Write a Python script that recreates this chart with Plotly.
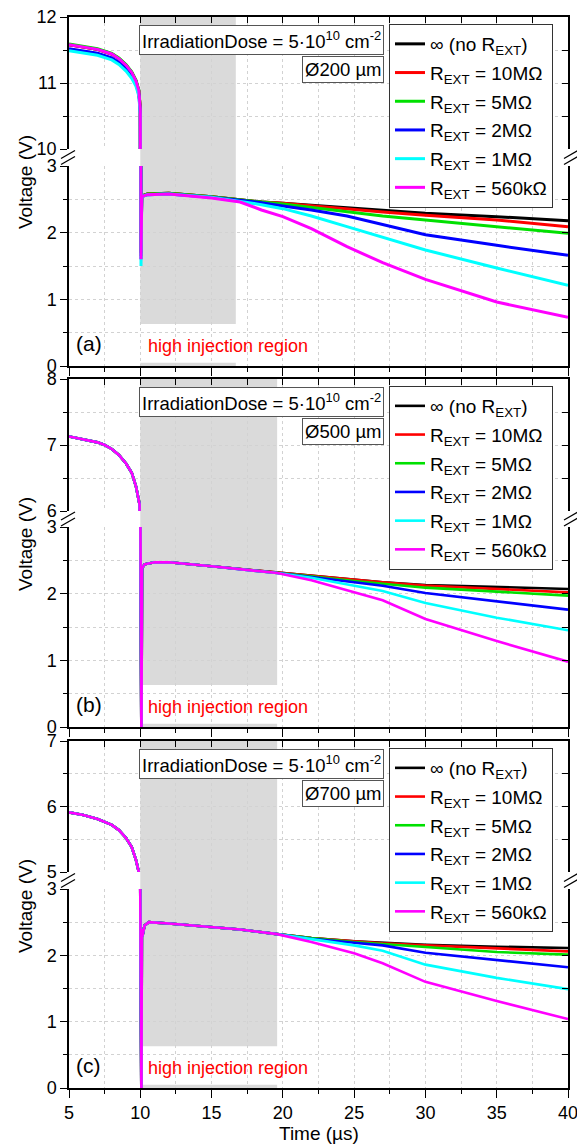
import plotly.graph_objects as go

W, H = 577, 1146

# ---------------- data ----------------
SERIES_NAMES = ["∞ (no R<sub>EXT</sub>)", "R<sub>EXT</sub> = 10MΩ", "R<sub>EXT</sub> = 5MΩ",
                "R<sub>EXT</sub> = 2MΩ", "R<sub>EXT</sub> = 1MΩ", "R<sub>EXT</sub> = 560kΩ"]
COLORS = ["#000000", "#ff0000", "#00e000", "#0000ff", "#00ffff", "#ff00ff"]

# panel (a) Ø200 µm
T_A = [5, 6, 7, 8, 8.5, 9, 9.4, 9.7, 9.9, 10.0, 10.05, 10.1, 10.5, 12, 15, 17, 18.5, 20, 22, 24.5, 27, 30, 35, 40]
A_BLACK = [11.58, 11.55, 11.51, 11.44, 11.37, 11.27, 11.16, 11.03, 10.88, 10.60, 1.70,
           2.55, 2.58, 2.59, 2.54, 2.49, 2.46, 2.44, 2.41, 2.37, 2.33, 2.29, 2.24, 2.18]
A_RED = [11.58, 11.55, 11.51, 11.44, 11.37, 11.27, 11.16, 11.03, 10.88, 10.60, 1.70,
         2.55, 2.58, 2.59, 2.54, 2.49, 2.46, 2.44, 2.40, 2.36, 2.31, 2.26, 2.19, 2.09]
A_GREEN = [11.59, 11.56, 11.52, 11.45, 11.38, 11.28, 11.17, 11.04, 10.89, 10.60, 1.65,
           2.55, 2.58, 2.59, 2.54, 2.49, 2.46, 2.43, 2.38, 2.31, 2.25, 2.19, 2.09, 1.99]
A_BLUE = [11.52, 11.49, 11.45, 11.38, 11.31, 11.21, 11.10, 10.98, 10.83, 10.55, 1.60,
          2.54, 2.57, 2.58, 2.53, 2.48, 2.45, 2.40, 2.34, 2.25, 2.12, 1.97, 1.81, 1.66]
A_CYAN = [11.49, 11.46, 11.42, 11.35, 11.28, 11.18, 11.07, 10.95, 10.80, 10.52, 1.50,
          2.54, 2.57, 2.58, 2.53, 2.47, 2.42, 2.36, 2.25, 2.09, 1.93, 1.74, 1.47, 1.21]
A_MAGENTA = [11.58, 11.55, 11.51, 11.44, 11.37, 11.27, 11.16, 11.03, 10.88, 10.60, 1.60,
             2.54, 2.57, 2.58, 2.52, 2.46, 2.34, 2.24, 2.06, 1.79, 1.55, 1.30, 0.96, 0.73]

# panel (b) Ø500 µm
T_B = [5, 6, 7, 7.5, 8, 8.5, 9, 9.4, 9.7, 9.95, 10.08, 10.12, 10.3, 11, 12, 15, 17, 19.6,
       22, 25, 27, 30, 35, 40]
B_COMMON = [7.13, 7.09, 7.04, 7.00, 6.94, 6.85, 6.72, 6.58, 6.37, 6.10, -0.3,
            2.38, 2.44, 2.47, 2.47, 2.41, 2.37, 2.31]
B_BLACK = [2.26, 2.20, 2.17, 2.13, 2.10, 2.07]
B_RED = [2.26, 2.20, 2.17, 2.12, 2.07, 2.02]
B_GREEN = [2.26, 2.19, 2.15, 2.09, 2.03, 1.97]
B_BLUE = [2.25, 2.17, 2.12, 2.01, 1.89, 1.76]
B_CYAN = [2.24, 2.12, 2.04, 1.86, 1.64, 1.45]
B_MAGENTA = [2.20, 2.02, 1.90, 1.62, 1.29, 0.98]

# panel (c) Ø700 µm
T_C = [5, 6, 7, 7.5, 8, 8.5, 9, 9.4, 9.7, 9.95, 10.08, 10.11, 10.14, 10.3, 10.6, 12, 15, 17, 19.6,
       22, 25, 27, 30, 35, 40]
C_COMMON = [5.91, 5.87, 5.81, 5.77, 5.72, 5.64, 5.52, 5.38, 5.18, 4.95, -0.3,
            2.40, 2.28, 2.45, 2.50, 2.48, 2.43, 2.39, 2.32]
C_BLACK = [2.26, 2.21, 2.19, 2.16, 2.13, 2.11]
C_RED = [2.26, 2.21, 2.18, 2.15, 2.10, 2.06]
C_GREEN = [2.26, 2.20, 2.17, 2.12, 2.05, 2.01]
C_BLUE = [2.25, 2.19, 2.15, 2.04, 1.93, 1.82]
C_CYAN = [2.24, 2.15, 2.07, 1.86, 1.66, 1.49]
C_MAGENTA = [2.20, 2.03, 1.88, 1.60, 1.31, 1.04]

X_TICKS = [5, 10, 15, 20, 25, 30, 35, 40]
UPPER_RANGES = [[10, 12], [6, 8], [5, 7]]
LOWER_RANGE = [0, 3]
DIAMETERS = ["Ø200 µm", "Ø500 µm", "Ø700 µm"]
PANEL_LABELS = ["(a)", "(b)", "(c)"]
GRAY_END = [16.7, 19.6, 19.6]
GRAY_START = 10.0
GRAY_BOTTOM = 0.63

panels = [
    (T_A, [A_BLACK, A_RED, A_GREEN, A_BLUE, A_CYAN, A_MAGENTA]),
    (T_B, [B_COMMON + s for s in [B_BLACK, B_RED, B_GREEN, B_BLUE, B_CYAN, B_MAGENTA]]),
    (T_C, [C_COMMON + s for s in [C_BLACK, C_RED, C_GREEN, C_BLUE, C_CYAN, C_MAGENTA]]),
]

# ---------------- layout geometry (pixels) ----------------
FONT = "Arial, 'Liberation Sans', sans-serif"
X_L, X_R = 69, 568
# (upper top, upper bottom, lower top, lower bottom) in px from top
PANEL_PX = [(17, 149, 166, 366), (379, 511, 527, 727), (741, 872, 889, 1088)]
GRID_COLOR = "#d2d2d2"


def px(p):
    return p / W


def py(p):
    return 1 - p / H


fig = go.Figure()
layout = dict(
    width=W, height=H, autosize=False,
    margin=dict(l=0, r=0, t=0, b=0, pad=0, autoexpand=False),
    paper_bgcolor="white", plot_bgcolor="rgba(0,0,0,0)",
    font=dict(family=FONT, size=18, color="black"),
    showlegend=True,
)
shapes = []
annotations = []

grid = dict(showgrid=True, gridcolor=GRID_COLOR, griddash="dot", gridwidth=1, automargin=False)


def right_ticks_axis(base, xanchor, rng, vals):
    # mirrored tick marks on the right frame edge, pointing inward
    return dict(overlaying=base, side="right", anchor=xanchor, range=rng, tickvals=vals,
                ticks="inside", ticklen=6, tickcolor="black", showticklabels=False,
                showgrid=False, showline=False, zeroline=False, automargin=False,
                minor=dict(dtick=0.5, ticks="inside", ticklen=6, tickcolor="black",
                           showgrid=False))


for i, (t, vals) in enumerate(panels):
    ut, ub, lt, lb = PANEL_PX[i]
    iu, il = 2 * i + 1, 2 * i + 2
    xu = "x" if iu == 1 else f"x{iu}"
    xl = f"x{il}"
    yu = "y" if iu == 1 else f"y{iu}"
    yl = f"y{il}"
    ru, rl = 7 + 2 * i, 8 + 2 * i
    legname = "legend" if i == 0 else f"legend{i + 1}"
    lw = 3 if i == 0 else 2.6

    for k, v in enumerate(vals):
        grp = f"p{i}s{k}"
        fig.add_trace(go.Scatter(x=t, y=v, mode="lines", name=SERIES_NAMES[k],
                                 line=dict(color=COLORS[k], width=lw),
                                 xaxis=xu, yaxis=yu, showlegend=False,
                                 legendgroup=grp, legend=legname))
        fig.add_trace(go.Scatter(x=t, y=v, mode="lines", name=SERIES_NAMES[k],
                                 line=dict(color=COLORS[k], width=lw),
                                 xaxis=xl, yaxis=yl, showlegend=True,
                                 legendgroup=grp, legend=legname))
    # empty traces that register the right-hand tick axes
    for ya, xa in ((f"y{ru}", xu), (f"y{rl}", xl)):
        fig.add_trace(go.Scatter(x=[], y=[], mode="lines", xaxis=xa, yaxis=ya,
                                 showlegend=False, hoverinfo="skip"))

    xdom = [px(X_L), px(X_R)]
    # upper x axis (top of frame)
    layout["xaxis" if iu == 1 else f"xaxis{iu}"] = dict(
        domain=xdom, anchor=yu, side="top", range=[5, 40], dtick=2.5, tick0=5,
        showline=True, linecolor="black", linewidth=1.5, mirror=False,
        ticks="inside", ticklen=6, tickcolor="black", showticklabels=False,
        zeroline=False, **grid)
    # lower x axis (bottom of frame)
    layout[f"xaxis{il}"] = dict(
        domain=xdom, anchor=yl, side="bottom", range=[5, 40], tickvals=X_TICKS,
        showline=True, linecolor="black", linewidth=1.5, mirror=False,
        ticks="outside", ticklen=8, tickcolor="black",
        showticklabels=(i == 2), tickfont=dict(size=18), ticklabeloverflow="allow",
        minor=dict(dtick=2.5, tick0=5, ticks="outside", ticklen=4, tickcolor="black",
                   showgrid=True, gridcolor=GRID_COLOR, griddash="dot"),
        zeroline=False, **grid)
    # upper y axis
    ur = UPPER_RANGES[i]
    uvals = list(range(ur[0], ur[1] + 1))
    layout["yaxis" if iu == 1 else f"yaxis{iu}"] = dict(
        domain=[py(ub), py(ut)], anchor=xu, range=ur, tickvals=uvals,
        showline=True, linecolor="black", linewidth=1.5, mirror=True,
        ticks="outside", ticklen=7, tickcolor="black", tickfont=dict(size=18),
        ticklabeloverflow="allow",
        minor=dict(dtick=0.5, ticks="outside", ticklen=4, tickcolor="black",
                   showgrid=True, gridcolor=GRID_COLOR, griddash="dot"),
        zeroline=False, **grid)
    # lower y axis
    layout[f"yaxis{il}"] = dict(
        domain=[py(lb), py(lt)], anchor=xl, range=LOWER_RANGE,
        tickvals=[0, 1, 2, 3],
        showline=True, linecolor="black", linewidth=1.5, mirror=True,
        ticks="outside", ticklen=7, tickcolor="black", tickfont=dict(size=18),
        ticklabeloverflow="allow",
        minor=dict(dtick=0.5, ticks="outside", ticklen=4, tickcolor="black",
                   showgrid=True, gridcolor=GRID_COLOR, griddash="dot"),
        zeroline=False, **grid)
    layout[f"yaxis{ru}"] = right_ticks_axis(yu, xu, ur, uvals)
    layout[f"yaxis{rl}"] = right_ticks_axis(yl, xl, LOWER_RANGE, [0, 1, 2, 3])

    # legend
    layout[legname] = dict(
        x=px(389), y=py(ut + 7), xanchor="left", yanchor="top",
        bgcolor="white", bordercolor="#333", borderwidth=1,
        font=dict(family=FONT, size=19), traceorder="grouped", tracegroupgap=1,
        itemwidth=30)

    # gray "high injection" region (below gridlines)
    ldom = (py(lb), py(lt))
    y_gray0 = ldom[0] + (GRAY_BOTTOM - LOWER_RANGE[0]) / (LOWER_RANGE[1] - LOWER_RANGE[0]) * (ldom[1] - ldom[0])
    shapes.append(dict(type="rect", xref=xl, yref="paper", x0=GRAY_START, x1=GRAY_END[i],
                       y0=y_gray0, y1=py(ut), fillcolor="#dadada", line=dict(width=0),
                       layer="below"))
    shapes.append(dict(type="rect", xref=xl, yref=yl, x0=GRAY_START, x1=GRAY_END[i],
                       y0=0, y1=0.05, fillcolor="#dadada", line=dict(width=0),
                       layer="below"))

    # axis break marks
    gc = (ub + lt) / 2
    for xc in (X_L - 1, X_R + 3):
        for dy in (-3, 3):
            shapes.append(dict(type="line", xref="paper", yref="paper",
                               x0=px(xc - 7), y0=py(gc + dy + 4),
                               x1=px(xc + 7), y1=py(gc + dy - 4),
                               line=dict(color="black", width=1.3)))

    # annotations
    annotations.append(dict(text="IrradiationDose = 5·10<sup>10</sup> cm<sup>-2</sup>",
                            xref="paper", yref="paper", x=px(384), y=py(ut + 8),
                            xanchor="right", yanchor="top", showarrow=False,
                            bgcolor="white", bordercolor="#555", borderwidth=1, borderpad=2,
                            font=dict(size=18.5)))
    annotations.append(dict(text=DIAMETERS[i], xref="paper", yref="paper",
                            x=px(384), y=py(ut + 39), xanchor="right", yanchor="top",
                            showarrow=False, bgcolor="white", bordercolor="#555",
                            borderwidth=1, borderpad=2, font=dict(size=18.5)))
    annotations.append(dict(text=PANEL_LABELS[i], xref=xl, yref=yl, x=6.4, y=0.34,
                            xanchor="center", yanchor="middle",
                            showarrow=False, font=dict(size=21)))
    annotations.append(dict(text="high injection region", xref=xl, yref=yl, x=10.4, y=0.3,
                            xanchor="left", yanchor="middle", showarrow=False,
                            font=dict(size=18, color="#ff0000")))
    annotations.append(dict(text="Voltage (V)", xref="paper", yref="paper",
                            x=px(25), y=py(ut + 165), xanchor="center", yanchor="middle",
                            textangle=-90, showarrow=False, font=dict(size=19)))

annotations.append(dict(text="Time (µs)", xref="paper", yref="paper",
                        x=px((X_L + X_R) / 2), y=py(1133), xanchor="center", yanchor="middle",
                        showarrow=False, font=dict(size=19)))

layout["shapes"] = shapes
layout["annotations"] = annotations
fig.update_layout(**layout)
fig.write_html("out.html")
